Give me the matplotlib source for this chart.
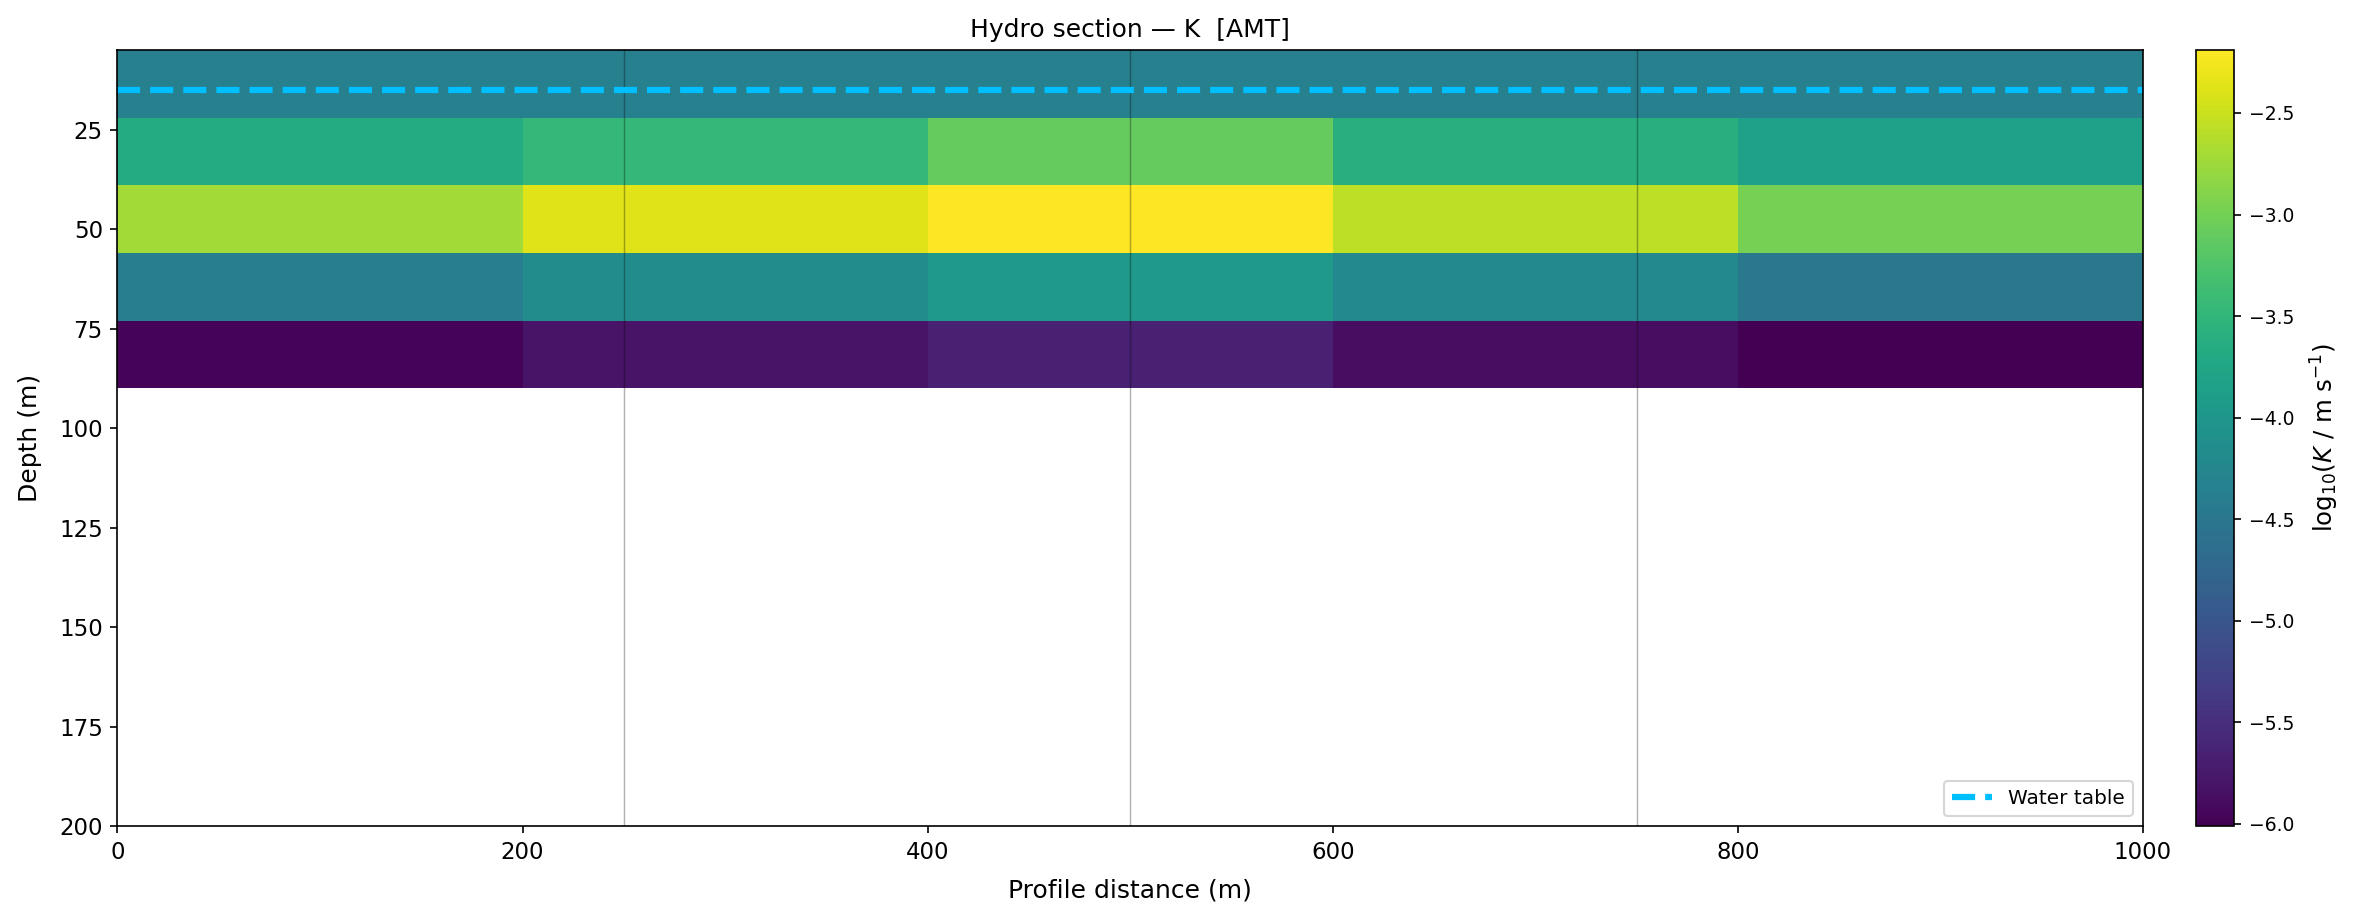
import numpy as np
import matplotlib
matplotlib.use("Agg")
import matplotlib.pyplot as plt

# --- data ---
x_edges = [0, 200, 400, 600, 800, 1000]
depth_edges = [5, 22, 39, 56, 73, 90]
logK = [
    [-4.36, -4.36, -4.36, -4.36, -4.36],
    [-3.68, -3.47, -3.09, -3.60, -3.85],
    [-2.72, -2.38, -2.19, -2.57, -2.99],
    [-4.40, -4.17, -3.94, -4.21, -4.48],
    [-5.98, -5.81, -5.66, -5.89, -6.01],
]
stations = [250, 500, 750]
water_table_depth = 15
x_ticks = [0, 200, 400, 600, 800, 1000]
y_ticks = [25, 50, 75, 100, 125, 150, 175, 200]

W, H, DPI = 2360, 920, 150
fig = plt.figure(figsize=(W / DPI, H / DPI), dpi=DPI)
ax = fig.add_axes([117.4 / W, 1 - 826 / H, (2143 - 117.4) / W, (826 - 50) / H])
cax = fig.add_axes([2196 / W, 1 - 826 / H, 38 / W, (826 - 50) / H])

Z = np.array(logK)
mesh = ax.pcolormesh(x_edges, depth_edges, Z, cmap="viridis", shading="flat",
                     vmin=Z.min(), vmax=Z.max())
for s in stations:
    ax.axvline(s, color="k", alpha=0.3, lw=0.7)
ax.axhline(water_table_depth, color="#00BFFF", ls="--", lw=3, label="Water table")

ax.set_xlim(0, 1000)
ax.set_ylim(200, 5)
ax.set_xticks(x_ticks)
ax.set_yticks(y_ticks)
ax.tick_params(labelsize=11)
ax.set_xlabel("Profile distance (m)", fontsize=12, labelpad=7)
ax.set_ylabel("Depth (m)", fontsize=12, labelpad=8)
ax.set_title("Hydro section — K  [AMT]", fontsize=12)
ax.legend(loc="lower right", fontsize=9.6)

cb = fig.colorbar(mesh, cax=cax)
cb.ax.tick_params(labelsize=9)
cb.set_label(r"log$_{10}$($K$ / m s$^{-1}$)", fontsize=11.7, labelpad=7)

fig.savefig("out.png", dpi=DPI)
